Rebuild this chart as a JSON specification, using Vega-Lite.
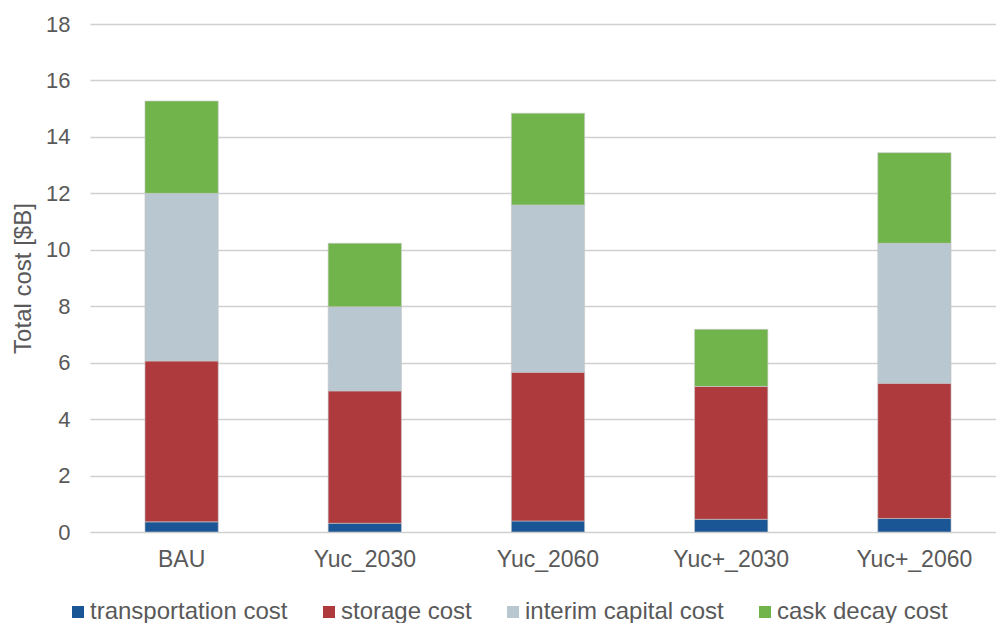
{
  "$schema": "https://vega.github.io/schema/vega-lite/v6.json",
  "autosize": "none",
  "width": 906,
  "height": 508,
  "padding": {"left": 90, "top": 24, "right": 0, "bottom": 91},
  "background": "white",
  "config": {
    "font": "Liberation Sans",
    "view": {"stroke": null}
  },
  "data": {
    "values": [
      {"scenario": "BAU", "component": "transportation cost", "ord": 1, "cost": 0.36},
      {"scenario": "BAU", "component": "storage cost", "ord": 2, "cost": 5.70},
      {"scenario": "BAU", "component": "interim capital cost", "ord": 3, "cost": 5.94},
      {"scenario": "BAU", "component": "cask decay cost", "ord": 4, "cost": 3.27},
      {"scenario": "Yuc_2030", "component": "transportation cost", "ord": 1, "cost": 0.31},
      {"scenario": "Yuc_2030", "component": "storage cost", "ord": 2, "cost": 4.69},
      {"scenario": "Yuc_2030", "component": "interim capital cost", "ord": 3, "cost": 2.98},
      {"scenario": "Yuc_2030", "component": "cask decay cost", "ord": 4, "cost": 2.25},
      {"scenario": "Yuc_2060", "component": "transportation cost", "ord": 1, "cost": 0.39},
      {"scenario": "Yuc_2060", "component": "storage cost", "ord": 2, "cost": 5.27},
      {"scenario": "Yuc_2060", "component": "interim capital cost", "ord": 3, "cost": 5.93},
      {"scenario": "Yuc_2060", "component": "cask decay cost", "ord": 4, "cost": 3.25},
      {"scenario": "Yuc+_2030", "component": "transportation cost", "ord": 1, "cost": 0.45},
      {"scenario": "Yuc+_2030", "component": "storage cost", "ord": 2, "cost": 4.71},
      {"scenario": "Yuc+_2030", "component": "interim capital cost", "ord": 3, "cost": 0},
      {"scenario": "Yuc+_2030", "component": "cask decay cost", "ord": 4, "cost": 2.02},
      {"scenario": "Yuc+_2060", "component": "transportation cost", "ord": 1, "cost": 0.48},
      {"scenario": "Yuc+_2060", "component": "storage cost", "ord": 2, "cost": 4.79},
      {"scenario": "Yuc+_2060", "component": "interim capital cost", "ord": 3, "cost": 4.96},
      {"scenario": "Yuc+_2060", "component": "cask decay cost", "ord": 4, "cost": 3.21}
    ]
  },
  "mark": {"type": "bar", "stroke": "#c8c8c8", "strokeWidth": 0.6},
  "encoding": {
    "x": {
      "field": "scenario",
      "type": "nominal",
      "sort": ["BAU", "Yuc_2030", "Yuc_2060", "Yuc+_2030", "Yuc+_2060"],
      "scale": {"range": [0, 916], "paddingInner": 0.6, "paddingOuter": 0.3},
      "axis": {
        "title": null,
        "labelAngle": 0,
        "labelFontSize": 23,
        "labelColor": "#595959",
        "labelPadding": 16,
        "ticks": false,
        "domain": false
      }
    },
    "y": {
      "field": "cost",
      "type": "quantitative",
      "stack": "zero",
      "scale": {"domain": [0, 18], "nice": false},
      "axis": {
        "title": "Total cost [$B]",
        "titleFontSize": 24,
        "titleFontWeight": "normal",
        "titleColor": "#595959",
        "titlePadding": 10,
        "values": [0, 2, 4, 6, 8, 10, 12, 14, 16, 18],
        "labelFontSize": 22,
        "labelColor": "#595959",
        "labelPadding": 20,
        "ticks": false,
        "domain": false,
        "gridColor": "#d0d0d0",
        "gridWidth": 1.5
      }
    },
    "color": {
      "field": "component",
      "type": "nominal",
      "scale": {
        "domain": ["transportation cost", "storage cost", "interim capital cost", "cask decay cost"],
        "range": ["#1a5595", "#ae3a3e", "#b8c7d0", "#70b44b"]
      },
      "legend": {
        "title": null,
        "orient": "none",
        "direction": "horizontal",
        "legendX": -24,
        "legendY": 576,
        "symbolType": "square",
        "symbolSize": 144,
        "symbolStrokeWidth": 0,
        "labelFontSize": 24,
        "labelColor": "#595959",
        "labelOffset": 0,
        "labelLimit": 500,
        "columnPadding": 29
      }
    },
    "order": {"field": "ord", "type": "quantitative"}
  }
}
